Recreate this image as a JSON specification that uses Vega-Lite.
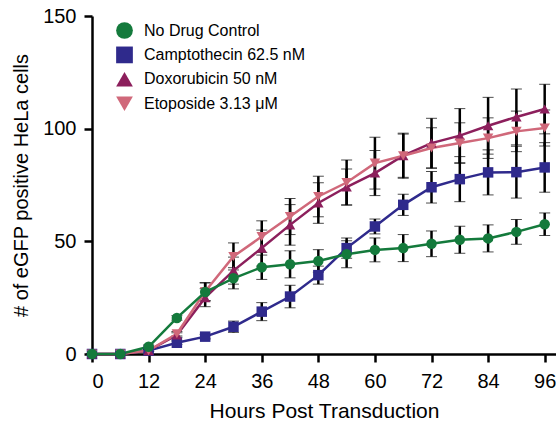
{
  "$schema": "https://vega.github.io/schema/vega-lite/v6.json",
  "width": 464,
  "height": 338,
  "autosize": "none",
  "padding": {"left": 92, "top": 16, "right": 0, "bottom": 74},
  "background": "white",
  "config": {
    "view": {"stroke": null},
    "font": "Liberation Sans",
    "axis": {
      "domainColor": "black", "domainWidth": 2.5, "tickColor": "black", "tickWidth": 2.5,
      "tickSize": 8, "labelColor": "black", "titleColor": "black", "labelFont": "Liberation Sans",
      "titleFont": "Liberation Sans", "labelFontSize": 20, "titleFontSize": 20, "titleFontWeight": "normal", "grid": false
    },
    "legend": {"symbolSize": 280, "labelFontSize": 16, "labelFont": "Liberation Sans", "labelColor": "black", "labelOffset": 11, "labelLimit": 400, "rowPadding": 7.4, "symbolStrokeWidth": 0, "symbolOpacity": 1}
  },
  "data": {
    "values": [
      {"series": "Camptothecin 62.5 nM", "hour": 0, "mean": 0, "err": 0},
      {"series": "Camptothecin 62.5 nM", "hour": 6, "mean": 0, "err": 0},
      {"series": "Camptothecin 62.5 nM", "hour": 12, "mean": 1.5, "err": 0.5},
      {"series": "Camptothecin 62.5 nM", "hour": 18, "mean": 5, "err": 0.8},
      {"series": "Camptothecin 62.5 nM", "hour": 24, "mean": 7.7, "err": 1},
      {"series": "Camptothecin 62.5 nM", "hour": 30, "mean": 12.1, "err": 2.5},
      {"series": "Camptothecin 62.5 nM", "hour": 36, "mean": 18.8, "err": 4},
      {"series": "Camptothecin 62.5 nM", "hour": 42, "mean": 25.5, "err": 5},
      {"series": "Camptothecin 62.5 nM", "hour": 48, "mean": 35, "err": 4},
      {"series": "Camptothecin 62.5 nM", "hour": 54, "mean": 47, "err": 4.5},
      {"series": "Camptothecin 62.5 nM", "hour": 60, "mean": 56.6, "err": 3.3},
      {"series": "Camptothecin 62.5 nM", "hour": 66, "mean": 66.2, "err": 4.7},
      {"series": "Camptothecin 62.5 nM", "hour": 72, "mean": 74, "err": 7},
      {"series": "Camptothecin 62.5 nM", "hour": 78, "mean": 77.6, "err": 10},
      {"series": "Camptothecin 62.5 nM", "hour": 84, "mean": 80.6, "err": 10},
      {"series": "Camptothecin 62.5 nM", "hour": 90, "mean": 80.7, "err": 11.5},
      {"series": "Camptothecin 62.5 nM", "hour": 96, "mean": 82.8, "err": 11},
      {"series": "Doxorubicin 50 nM", "hour": 0, "mean": 0, "err": 0},
      {"series": "Doxorubicin 50 nM", "hour": 6, "mean": 0, "err": 0},
      {"series": "Doxorubicin 50 nM", "hour": 12, "mean": 1.5, "err": 0.5},
      {"series": "Doxorubicin 50 nM", "hour": 18, "mean": 8.4, "err": 1},
      {"series": "Doxorubicin 50 nM", "hour": 24, "mean": 25, "err": 4},
      {"series": "Doxorubicin 50 nM", "hour": 30, "mean": 37, "err": 6},
      {"series": "Doxorubicin 50 nM", "hour": 36, "mean": 47, "err": 8},
      {"series": "Doxorubicin 50 nM", "hour": 42, "mean": 57.3, "err": 9},
      {"series": "Doxorubicin 50 nM", "hour": 48, "mean": 67, "err": 9},
      {"series": "Doxorubicin 50 nM", "hour": 54, "mean": 74.1, "err": 8},
      {"series": "Doxorubicin 50 nM", "hour": 60, "mean": 80.3, "err": 10},
      {"series": "Doxorubicin 50 nM", "hour": 66, "mean": 88, "err": 9.6},
      {"series": "Doxorubicin 50 nM", "hour": 72, "mean": 93.6, "err": 11},
      {"series": "Doxorubicin 50 nM", "hour": 78, "mean": 96.9, "err": 12},
      {"series": "Doxorubicin 50 nM", "hour": 84, "mean": 101.3, "err": 12.6},
      {"series": "Doxorubicin 50 nM", "hour": 90, "mean": 105.2, "err": 12.4},
      {"series": "Doxorubicin 50 nM", "hour": 96, "mean": 108.7, "err": 11},
      {"series": "Etoposide 3.13 μM", "hour": 0, "mean": 0, "err": 0},
      {"series": "Etoposide 3.13 μM", "hour": 6, "mean": 0, "err": 0},
      {"series": "Etoposide 3.13 μM", "hour": 12, "mean": 1.5, "err": 0.5},
      {"series": "Etoposide 3.13 μM", "hour": 18, "mean": 9, "err": 1},
      {"series": "Etoposide 3.13 μM", "hour": 24, "mean": 27.7, "err": 4},
      {"series": "Etoposide 3.13 μM", "hour": 30, "mean": 43.3, "err": 6},
      {"series": "Etoposide 3.13 μM", "hour": 36, "mean": 52.1, "err": 7},
      {"series": "Etoposide 3.13 μM", "hour": 42, "mean": 61, "err": 8},
      {"series": "Etoposide 3.13 μM", "hour": 48, "mean": 69.9, "err": 9},
      {"series": "Etoposide 3.13 μM", "hour": 54, "mean": 76.1, "err": 10},
      {"series": "Etoposide 3.13 μM", "hour": 60, "mean": 84.7, "err": 11.5},
      {"series": "Etoposide 3.13 μM", "hour": 66, "mean": 88, "err": 10},
      {"series": "Etoposide 3.13 μM", "hour": 72, "mean": 91.4, "err": 9},
      {"series": "Etoposide 3.13 μM", "hour": 78, "mean": 93.6, "err": 9},
      {"series": "Etoposide 3.13 μM", "hour": 84, "mean": 95.8, "err": 9},
      {"series": "Etoposide 3.13 μM", "hour": 90, "mean": 98.8, "err": 9},
      {"series": "Etoposide 3.13 μM", "hour": 96, "mean": 100.3, "err": 8},
      {"series": "No Drug Control", "hour": 0, "mean": 0, "err": 0},
      {"series": "No Drug Control", "hour": 6, "mean": 0, "err": 0},
      {"series": "No Drug Control", "hour": 12, "mean": 3.2, "err": 0.8},
      {"series": "No Drug Control", "hour": 18, "mean": 16, "err": 1},
      {"series": "No Drug Control", "hour": 24, "mean": 27.5, "err": 4},
      {"series": "No Drug Control", "hour": 30, "mean": 33.6, "err": 4.7},
      {"series": "No Drug Control", "hour": 36, "mean": 38.5, "err": 5.4},
      {"series": "No Drug Control", "hour": 42, "mean": 39.8, "err": 6},
      {"series": "No Drug Control", "hour": 48, "mean": 41.3, "err": 5},
      {"series": "No Drug Control", "hour": 54, "mean": 44.3, "err": 6},
      {"series": "No Drug Control", "hour": 60, "mean": 46.2, "err": 5.3},
      {"series": "No Drug Control", "hour": 66, "mean": 47, "err": 6},
      {"series": "No Drug Control", "hour": 72, "mean": 48.9, "err": 5.7},
      {"series": "No Drug Control", "hour": 78, "mean": 50.7, "err": 6},
      {"series": "No Drug Control", "hour": 84, "mean": 51.3, "err": 6},
      {"series": "No Drug Control", "hour": 90, "mean": 54.2, "err": 5.5},
      {"series": "No Drug Control", "hour": 96, "mean": 57.6, "err": 5}
    ]
  },
  "encoding": {
    "x": {
      "field": "hour", "type": "quantitative",
      "scale": {"domain": [0, 98.4], "nice": false, "zero": false},
      "axis": {"values": [0, 12, 24, 36, 48, 60, 72, 84, 96], "title": "Hours Post Transduction", "titleFontSize": 21, "labelPadding": 9, "titlePadding": 9}
    },
    "y": {
      "field": "mean", "type": "quantitative",
      "scale": {"domain": [0, 150], "nice": false},
      "axis": {"values": [0, 50, 100, 150], "title": "# of eGFP positive HeLa cells", "labelPadding": 8, "titlePadding": 11}
    }
  },
  "layer": [
    {
      "mark": {"type": "errorbar", "ticks": {"size": 11, "color": "black", "strokeWidth": 2.5}, "rule": {"strokeWidth": 2.5}, "color": "black", "clip": false},
      "encoding": {
        "y": {"field": "mean", "type": "quantitative"},
        "yError": {"field": "err"},
        "detail": {"field": "series"}
      }
    },
    {
      "mark": {"type": "line", "strokeWidth": 2.5, "clip": false},
      "encoding": {
        "color": {"field": "series", "type": "nominal",
          "scale": {"domain": ["No Drug Control", "Camptothecin 62.5 nM", "Doxorubicin 50 nM", "Etoposide 3.13 μM"], "range": ["#147a3c", "#2f2a8c", "#8c1f5c", "#d0687a"]},
          "legend": {"orient": "none", "legendX": 24, "legendY": 6, "title": null}},
        "order": {"field": "hour"}
      }
    },
    {
      "mark": {"type": "point", "filled": true, "opacity": 1, "size": 110, "clip": false},
      "encoding": {
        "color": {"field": "series", "type": "nominal",
          "scale": {"domain": ["No Drug Control", "Camptothecin 62.5 nM", "Doxorubicin 50 nM", "Etoposide 3.13 μM"], "range": ["#147a3c", "#2f2a8c", "#8c1f5c", "#d0687a"]},
          "legend": {"orient": "none", "legendX": 24, "legendY": 6, "title": null}},
        "shape": {"field": "series", "type": "nominal",
          "scale": {"domain": ["No Drug Control", "Camptothecin 62.5 nM", "Doxorubicin 50 nM", "Etoposide 3.13 μM"], "range": ["circle", "square", "triangle-up", "triangle-down"]},
          "legend": {"orient": "none", "legendX": 24, "legendY": 6, "title": null}}
      }
    }
  ]
}
